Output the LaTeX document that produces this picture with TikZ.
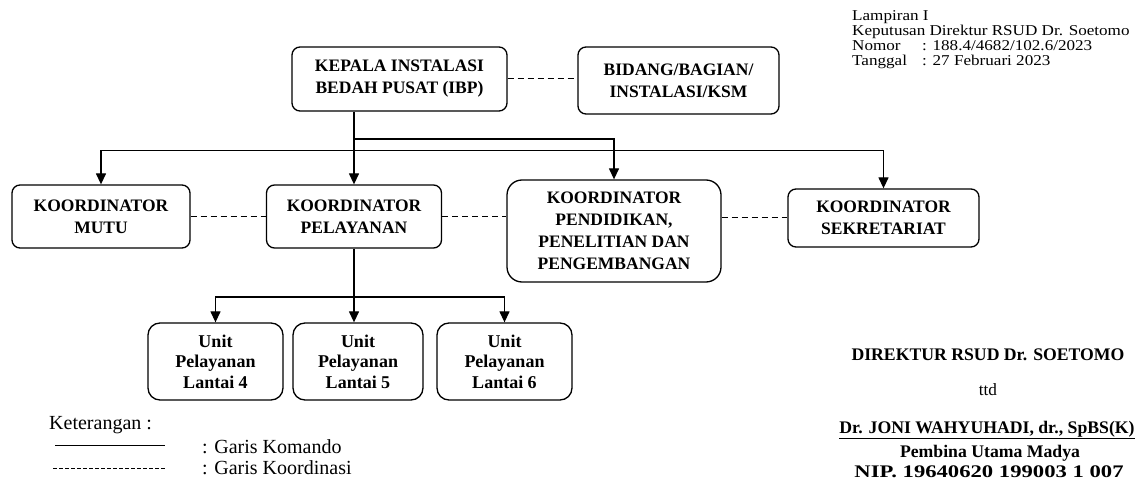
\documentclass[tikz,border=0pt]{standalone}
\usepackage{fontspec}
\setmainfont{Liberation Serif}
\newfontfamily\lampiranfont[FakeStretch=1.14]{Liberation Serif}
\usetikzlibrary{arrows.meta}
\begin{document}
\begin{tikzpicture}[x=1pt, y=-1pt,
    box/.style={draw, line width=1.3pt, rounded corners=8pt, align=center, inner sep=0pt,
        font=\fontsize{17.5}{22}\selectfont\bfseries},
    unitbox/.style={box, rounded corners=12pt, font=\fontsize{18}{20.5}\selectfont\bfseries},
    cmd/.style={line width=1.3pt, -{Triangle[length=11pt, width=10pt]}},
    coord/.style={line width=1pt, dash pattern=on 6pt off 4pt},
    txt/.style={inner sep=0pt, font=\fontsize{17.2}{19}\selectfont},
    sign/.style={inner sep=0pt, font=\fontsize{17.7}{20}\selectfont\bfseries}]
    \useasboundingbox (0,0) rectangle (1141,486);

    \node[txt, font=\lampiranfont\fontsize{15}{15}\selectfont, anchor=north west, align=left] (lampiran) at (852,10)
        {Lampiran I\\Keputusan Direktur RSUD Dr. Soetomo\\\makebox[70pt][l]{Nomor}: 188.4/4682/102.6/2023\\\makebox[70pt][l]{Tanggal}: 27 Februari 2023};

    \node[box, minimum width=215pt, minimum height=64pt] (kepala) at (399.5,79) {KEPALA INSTALASI\\BEDAH PUSAT (IBP)};
    \node[box, minimum width=201pt, minimum height=67pt] (bidang) at (678.5,80.5) {BIDANG/BAGIAN/\\INSTALASI/KSM};
    \node[box, minimum width=178pt, minimum height=63pt] (mutu) at (101,216.5) {KOORDINATOR\\MUTU};
    \node[box, minimum width=175pt, minimum height=63pt] (pelayanan) at (354,216.5) {KOORDINATOR\\PELAYANAN};
    \node[box, rounded corners=15pt, minimum width=214pt, minimum height=102pt] (pendidikan) at (614,231) {KOORDINATOR\\PENDIDIKAN,\\PENELITIAN DAN\\PENGEMBANGAN};
    \node[box, minimum width=191pt, minimum height=58pt] (sekretariat) at (883.5,218) {KOORDINATOR\\SEKRETARIAT};
    \node[unitbox, minimum width=135pt, minimum height=77pt] (lantai4) at (215.5,361.5) {Unit\\Pelayanan\\Lantai 4};
    \node[unitbox, minimum width=130pt, minimum height=77pt] (lantai5) at (358,361.5) {Unit\\Pelayanan\\Lantai 5};
    \node[unitbox, minimum width=135pt, minimum height=77pt] (lantai6) at (504.5,361.5) {Unit\\Pelayanan\\Lantai 6};

    \coordinate (bus1) at (0,139);
    \coordinate (bus2) at (0,150.5);
    \coordinate (bus3) at (0,297);
    \draw[coord] (kepala.east) -- (kepala.east -| bidang.west);
    \draw[cmd] (kepala.south -| pelayanan) -- (pelayanan.north);
    \draw[cmd] (pelayanan |- bus1) -| (pendidikan.north);
    \draw[cmd] (pelayanan |- bus2) -| (mutu.north);
    \draw[cmd] (pelayanan |- bus2) -| (sekretariat.north);
    \draw[coord] (mutu) -- (pelayanan);
    \draw[coord] (pelayanan.east) -- (pelayanan.east -| pendidikan.west);
    \draw[coord] (sekretariat.west -| pendidikan.east) -- (sekretariat.west);
    \draw[cmd] (pelayanan.south) -- (pelayanan.south |- lantai5.north);
    \draw[cmd] (pelayanan |- bus3) -| (lantai4.north);
    \draw[cmd] (pelayanan |- bus3) -| (lantai6.north);

    \node[txt, font=\fontsize{20}{22}\selectfont, anchor=west] (keterangan) at (49,425) {Keterangan :};
    \coordinate (komandoA) at (55,445);
    \coordinate (komandoB) at (165,445);
    \draw[line width=1pt] (komandoA) -- (komandoB);
    \node[txt, font=\fontsize{20}{22}\selectfont, anchor=west] (komando) at (202,447) {: Garis Komando};
    \coordinate (koordA) at (53,468);
    \coordinate (koordB) at (165,468);
    \draw[line width=0.8pt, dash pattern=on 4pt off 2pt] (koordA) -- (koordB);
    \node[txt, font=\fontsize{20}{22}\selectfont, anchor=west] (koordinasi) at (202,468) {: Garis Koordinasi};

    \node[sign] (direktur) at (988,355) {DIREKTUR RSUD Dr. SOETOMO};
    \node[txt] (ttd) at (988,390) {ttd};
    \node[sign] (nama) at (987,430) {\underline{Dr. JONI WAHYUHADI, dr., SpBS(K)}};
    \node[sign] (pangkat) at (990,453) {Pembina Utama Madya};
    \node[sign] (nip) at (989,472) {\scalebox{1.28}[1]{NIP. 19640620 199003 1 007}};
\end{tikzpicture}
\end{document}
